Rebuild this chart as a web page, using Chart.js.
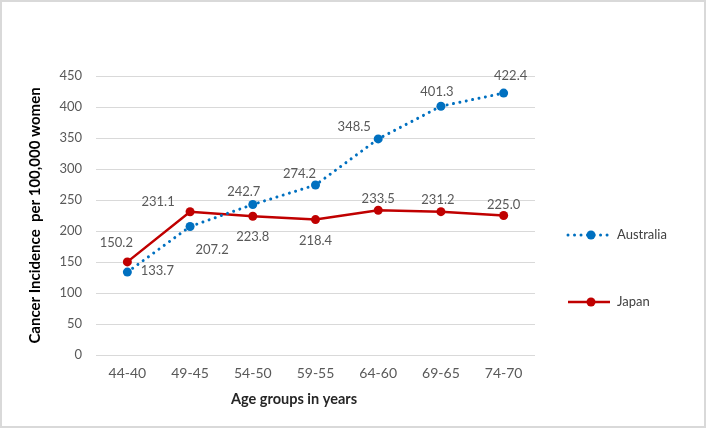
<!DOCTYPE html>
<html>
<head>
<meta charset="utf-8">
<script src="https://cdn.jsdelivr.net/npm/chart.js@4.4.0/dist/chart.umd.min.js"></script>
<style>
html, body { margin: 0; padding: 0; background: #fff; }
#frame { width: 706px; height: 428px; box-sizing: border-box; border: 2px solid #d9d9d9; }
#chart { display: block; }
</style>
</head>
<body>
<div id="frame"><canvas id="chart" width="702" height="424"></canvas></div>
<script>
// data
const ageGroups = ['44-40', '49-45', '54-50', '59-55', '64-60', '69-65', '74-70']
const australia = [133.7, 207.2, 242.7, 274.2, 348.5, 401.3, 422.4]
const japan     = [150.2, 231.1, 223.8, 218.4, 233.5, 231.2, 225.0]
const yMin = 0
const yMax = 450
const yStep = 50

// where each value label sits, relative to its point (px)
const labelOffsets = [
    [[30, -1], [22, 23], [-9, -13], [-16, -11], [-24, -12], [-4, -14], [7, -17]],
    [[-11, -19], [-32, -10], [0, 21], [0, 21], [0, -11], [-3, -12], [0, -11]]
]

const FONT = 'Lato'

//- value labels -
const valueLabels = {
    id: 'valueLabels',
    afterDatasetsDraw(chart) {
        const ctx = chart.ctx
        ctx.save()
        ctx.font = '13px ' + FONT
        ctx.fillStyle = '#595959'
        ctx.textAlign = 'center'
        ctx.textBaseline = 'middle'
        chart.data.datasets.forEach((ds, i) => {
            chart.getDatasetMeta(i).data.forEach((pt, j) => {
                const off = labelOffsets[i][j]
                ctx.fillText(ds.data[j].toFixed(1), pt.x + off[0], pt.y + off[1])
            })
        })
        ctx.restore()
    }
}

//- legend on the right + x axis title -
const sideLegend = {
    id: 'sideLegend',
    afterDraw(chart) {
        const ctx = chart.ctx
        const rows = [233, 300]
        ctx.save()
        chart.data.datasets.forEach((ds, i) => {
            const y = rows[i]
            ctx.strokeStyle = ds.borderColor
            ctx.lineWidth = ds.borderWidth
            ctx.lineCap = ds.borderCapStyle || 'butt'
            ctx.setLineDash(ds.borderDash || [])
            ctx.beginPath()
            ctx.moveTo(566, y)
            ctx.lineTo(608, y)
            ctx.stroke()
            ctx.setLineDash([])
            ctx.fillStyle = ds.borderColor
            ctx.beginPath()
            ctx.arc(589, y, ds.pointRadius, 0, Math.PI * 2)
            ctx.fill()
            ctx.fillStyle = '#404040'
            ctx.font = '13px ' + FONT
            ctx.textAlign = 'left'
            ctx.textBaseline = 'middle'
            ctx.fillText(ds.label, 615, y)
        })
        // x axis title (sits left of centre in the original)
        ctx.fillStyle = '#262626'
        ctx.font = 'bold 14.5px ' + FONT
        ctx.textAlign = 'center'
        ctx.textBaseline = 'middle'
        ctx.fillText('Age groups in years', 292, 397)
        ctx.restore()
    }
}

new Chart(document.getElementById('chart'), {
    type: 'line',
    data: {
        labels: ageGroups,
        datasets: [
            {
                label: 'Australia',
                data: australia,
                borderColor: '#0070C0',
                backgroundColor: '#0070C0',
                borderWidth: 3,
                borderDash: [0.01, 6.5],
                borderCapStyle: 'round',
                pointRadius: 4.5,
                pointBorderWidth: 0,
                pointBackgroundColor: '#0070C0',
                tension: 0
            },
            {
                label: 'Japan',
                data: japan,
                borderColor: '#C00000',
                backgroundColor: '#C00000',
                borderWidth: 2.5,
                pointRadius: 4.5,
                pointBorderWidth: 0,
                pointBackgroundColor: '#C00000',
                tension: 0
            }
        ]
    },
    options: {
        responsive: false,
        animation: false,
        layout: { padding: { left: 0, right: 169, top: 74, bottom: 0 } },
        plugins: {
            legend: { display: false },
            tooltip: { enabled: false }
        },
        scales: {
            x: {
                offset: true,
                grid: { display: false, drawTicks: false },
                border: { display: false },
                ticks: { padding: 10, color: '#595959', font: { family: FONT, size: 14 } },
                afterFit(s) { s.height = 71 }
            },
            y: {
                min: yMin,
                max: yMax,
                ticks: { stepSize: yStep, padding: 14, color: '#595959', font: { family: FONT, size: 13 } },
                grid: { color: '#d9d9d9', lineWidth: 1, drawTicks: false },
                border: { display: false },
                title: {
                    display: true,
                    text: 'Cancer Incidence  per 100,000 women',
                    color: '#000',
                    font: { family: FONT, size: 15, weight: 'bold' },
                    padding: { top: 24, bottom: 0 }
                },
                afterFit(s) { s.width = 94 }
            }
        }
    },
    plugins: [valueLabels, sideLegend]
})
</script>
</body>
</html>
